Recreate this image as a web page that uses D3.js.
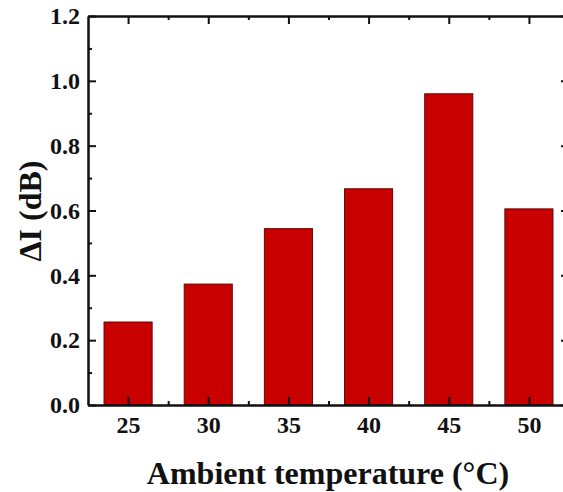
<!DOCTYPE html>
<html>
<head>
<meta charset="utf-8">
<script src="https://cdn.jsdelivr.net/npm/d3@7"></script>
<style>
  body { margin: 0; background: #fff; overflow: hidden; }
</style>
</head>
<body>
<svg width="563" height="492"></svg>
<script>
// data
const temps = [25, 30, 35, 40, 45, 50];
const deltaI = [0.256, 0.373, 0.544, 0.667, 0.960, 0.605];
const yTicks = [0, 0.2, 0.4, 0.6, 0.8, 1.0, 1.2];
const yMinor = [0.1, 0.3, 0.5, 0.7, 0.9, 1.1];
const xMinor = [27.5, 32.5, 37.5, 42.5, 47.5];

const serif = "'Liberation Serif', 'Times New Roman', serif";
const svg = d3.select("svg");
const plotLeft = 88, plotRight = 569, plotTop = 16, plotBottom = 405;

const x = d3.scaleLinear().domain([22.5, 52.5]).range([plotLeft, plotRight]);
const y = d3.scaleLinear().domain([0, 1.2]).range([plotBottom, plotTop]);
const barW = x(28) - x(25);

// bars
svg.append("g").selectAll("rect")
  .data(temps.map((t, i) => ({ t: t, v: deltaI[i] })))
  .enter().append("rect")
  .attr("x", d => x(d.t) - barW / 2)
  .attr("y", d => y(d.v))
  .attr("width", barW)
  .attr("height", d => y(0) - y(d.v))
  .attr("fill", "#c80000")
  .attr("stroke", "#5a0a0a")
  .attr("stroke-width", 1);

const styleAxis = g => {
  g.attr("font-family", serif).attr("font-weight", "bold").attr("font-size", 24);
  g.select(".domain").attr("stroke", "#111").attr("stroke-width", 2);
  g.selectAll(".tick line").attr("stroke", "#111").attr("stroke-width", 2);
  g.selectAll(".tick text").attr("fill", "#111");
};

// bottom axis
svg.append("g").attr("transform", "translate(0," + plotBottom + ")")
  .call(d3.axisBottom(x).tickValues(temps).tickSize(-8).tickSizeOuter(0).tickPadding(11))
  .call(styleAxis);
svg.append("g").attr("transform", "translate(0," + plotBottom + ")")
  .call(d3.axisBottom(x).tickValues(xMinor).tickSize(-4).tickSizeOuter(0).tickFormat(""))
  .call(styleAxis);

// top axis
svg.append("g").attr("transform", "translate(0," + plotTop + ")")
  .call(d3.axisTop(x).tickValues(temps).tickSize(-8).tickSizeOuter(0).tickFormat(""))
  .call(styleAxis);
svg.append("g").attr("transform", "translate(0," + plotTop + ")")
  .call(d3.axisTop(x).tickValues(xMinor).tickSize(-4).tickSizeOuter(0).tickFormat(""))
  .call(styleAxis);

// left axis
svg.append("g").attr("transform", "translate(" + plotLeft + ",0)")
  .call(d3.axisLeft(y).tickValues(yTicks).tickSize(-8).tickSizeOuter(0).tickPadding(8).tickFormat(d3.format(".1f")))
  .call(styleAxis);
svg.append("g").attr("transform", "translate(" + plotLeft + ",0)")
  .call(d3.axisLeft(y).tickValues(yMinor).tickSize(-4).tickSizeOuter(0).tickFormat(""))
  .call(styleAxis);

// right axis
svg.append("g").attr("transform", "translate(" + plotRight + ",0)")
  .call(d3.axisRight(y).tickValues(yTicks).tickSize(-8).tickSizeOuter(0).tickFormat(""))
  .call(styleAxis);
svg.append("g").attr("transform", "translate(" + plotRight + ",0)")
  .call(d3.axisRight(y).tickValues(yMinor).tickSize(-4).tickSizeOuter(0).tickFormat(""))
  .call(styleAxis);

// titles
svg.append("text")
  .attr("x", (149 + 507) / 2).attr("y", 484)
  .attr("text-anchor", "middle")
  .attr("font-family", serif).attr("font-weight", "bold").attr("font-size", 32).attr("fill", "#111")
  .text("Ambient temperature (°C)");

svg.append("text")
  .attr("transform", "translate(41," + 211 + ") rotate(-90)")
  .attr("text-anchor", "middle")
  .attr("font-family", serif).attr("font-weight", "bold").attr("font-size", 32).attr("fill", "#111")
  .text("ΔI (dB)");
</script>
</body>
</html>
